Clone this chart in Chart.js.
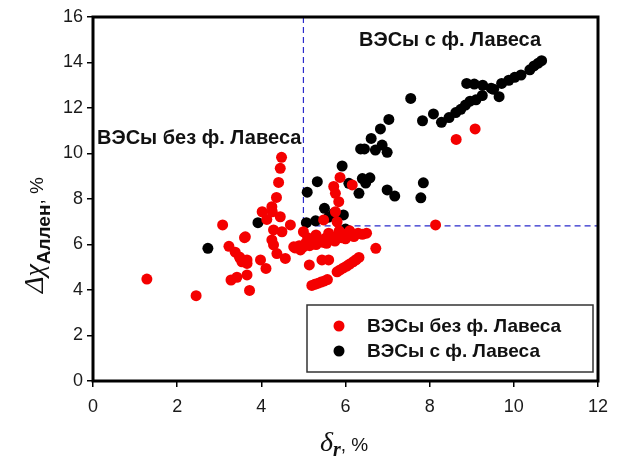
<!DOCTYPE html>
<html>
<head>
<meta charset="utf-8">
<script src="https://cdn.jsdelivr.net/npm/chart.js@4.4.1/dist/chart.umd.min.js"></script>
<style>
  html, body { margin: 0; background: #fff; }
  #wrap { width: 624px; height: 466px; position: relative; }
</style>
</head>
<body>
<div id="wrap"><canvas id="chart"></canvas></div>
<script>
// ВЭСы без фаз Лавеса (red)
const redX = [1.28, 2.45, 3.08, 3.60, 3.23, 3.38, 3.48, 3.54, 3.66, 3.28, 3.42, 3.66, 3.72,
    3.98, 4.11, 3.62, 3.50, 3.66, 4.02, 4.26, 4.13, 4.25, 4.36, 4.41, 4.45, 4.48, 4.45,
    4.29, 4.49, 4.69, 4.25, 4.29, 4.37, 4.57, 4.77, 4.93, 5.00,
    4.80, 4.90, 5.00, 5.05, 5.15, 5.20, 5.30, 5.35, 5.45, 5.50, 5.55, 5.60, 5.70, 5.75,
    5.80, 5.90, 5.95, 6.00, 6.05, 6.15, 6.20, 6.30, 6.40, 6.50, 5.10, 5.30, 5.60, 5.85, 6.10,
    5.20, 5.27, 5.35, 5.42, 5.50, 5.57,
    5.80, 5.87, 5.95, 6.03, 6.10, 6.18, 6.25, 6.32,
    5.14, 5.44, 5.60, 6.72,
    5.87, 5.72, 5.76, 5.84, 5.76, 5.80, 5.48, 6.16,
    8.63, 9.08, 8.14];
const redY = [4.48, 3.75, 6.86, 6.30, 5.92, 5.66, 5.45, 5.24, 5.32, 4.44, 4.56, 4.66, 3.98,
    5.32, 4.95, 6.34, 5.39, 5.17, 7.44, 7.44, 7.10, 7.66, 8.07, 8.73, 9.35, 9.83, 7.22,
    6.64, 6.56, 6.86, 6.20, 5.98, 5.60, 5.39, 5.90, 5.76, 6.56,
    5.85, 5.95, 5.90, 6.05, 5.95, 6.10, 6.00, 6.20, 6.10, 6.25, 6.05, 6.20, 6.30, 6.15,
    6.35, 6.30, 6.45, 6.25, 6.40, 6.45, 6.35, 6.50, 6.45, 6.50, 6.30, 6.42, 6.50, 6.60, 6.60,
    4.20, 4.25, 4.30, 4.35, 4.40, 4.46,
    4.80, 4.88, 4.97, 5.05, 5.14, 5.24, 5.33, 5.43,
    5.10, 5.32, 5.32, 5.83,
    8.95, 8.55, 8.25, 7.88, 7.44, 7.00, 7.08, 8.62,
    10.62, 11.08, 6.86];

// ВЭСы с фазами Лавеса (black)
const blackX = [2.73, 3.92,
    5.07, 5.29, 5.50, 5.72, 5.60, 5.95, 6.00,
    5.09, 5.33, 5.92, 6.08, 6.32, 6.40, 6.58, 6.48,
    6.99, 7.17, 7.85, 7.79,
    6.36, 6.45, 6.71, 6.87, 6.99, 6.61, 6.83, 7.03, 7.55,
    7.83, 8.09, 8.28, 8.46, 8.62, 8.74, 8.85, 8.96, 9.10, 9.25,
    8.88, 9.06, 9.26, 9.46, 9.52, 9.65, 9.71, 9.88, 10.02, 10.17, 10.38, 10.48, 10.58, 10.66];
const blackY = [5.83, 6.96,
    6.96, 7.04, 7.59, 7.37, 7.20, 7.30, 6.68,
    8.30, 8.76, 9.45, 8.69, 8.25, 8.90, 8.93, 8.70,
    8.40, 8.13, 8.71, 8.05,
    10.20, 10.20, 10.15, 10.37, 10.05, 10.66, 11.08, 11.50, 12.42,
    11.44, 11.74, 11.37, 11.58, 11.80, 11.94, 12.13, 12.30, 12.36, 12.55,
    13.08, 13.05, 13.00, 12.87, 12.82, 12.50, 13.08, 13.22, 13.35, 13.45, 13.68, 13.85, 13.97, 14.08];

const seriesNames = ['ВЭСы без ф. Лавеса', 'ВЭСы с ф. Лавеса'];
const seriesColors = ['#f40000', '#000000'];
const xTickValues = [0, 2, 4, 6, 8, 10, 12];
const yTickValues = [0, 2, 4, 6, 8, 10, 12, 14, 16];
const lavesX = 5;      // vertical dashed boundary
const lavesY = 6.82;   // horizontal dashed boundary

const SANS = "'Liberation Sans', Arial, sans-serif";
const SERIF = "'Liberation Serif', 'Times New Roman', serif";

const toPoints = (xs, ys) => xs.map((x, i) => ({ x, y: ys[i] }));

const overlay = {
    id: 'overlay',
    beforeDatasetsDraw(chart) {
        const { ctx, scales: { x, y }, chartArea: a } = chart;
        const vx = x.getPixelForValue(lavesX);
        const hy = y.getPixelForValue(lavesY);
        ctx.save();
        ctx.strokeStyle = '#2a2acc';
        ctx.lineWidth = 1.2;
        ctx.setLineDash([6, 4]);
        ctx.beginPath();
        ctx.moveTo(vx, a.top);
        ctx.lineTo(vx, hy);
        ctx.lineTo(a.right, hy);
        ctx.stroke();
        ctx.restore();
    },
    afterDraw(chart) {
        const { ctx, chartArea: a } = chart;
        ctx.save();

        // frame
        ctx.strokeStyle = '#000';
        ctx.lineWidth = 3;
        ctx.strokeRect(a.left, a.top, a.right - a.left, a.bottom - a.top);

        // region labels
        ctx.fillStyle = '#111';
        ctx.font = `bold 20px ${SANS}`;
        ctx.textBaseline = 'alphabetic';
        ctx.textAlign = 'left';
        ctx.fillText(seriesNames[0], 97, 144);
        ctx.fillText(seriesNames[1], 359, 46);

        // legend box
        ctx.fillStyle = '#fff';
        ctx.fillRect(307, 305, 286, 67);
        ctx.strokeStyle = '#333';
        ctx.lineWidth = 1.5;
        ctx.strokeRect(307, 305, 286, 67);
        const rows = [326, 351];
        rows.forEach((ry, i) => {
            ctx.beginPath();
            ctx.arc(339, ry, 5.5, 0, Math.PI * 2);
            ctx.fillStyle = seriesColors[i];
            ctx.fill();
            ctx.fillStyle = '#111';
            ctx.font = `bold 19px ${SANS}`;
            ctx.textBaseline = 'middle';
            ctx.fillText(seriesNames[i], 367, ry + 1);
        });

        // x axis title: δr, %
        ctx.textBaseline = 'alphabetic';
        let tx = 320;
        ctx.font = `italic 28px ${SERIF}`;
        ctx.fillText('δ', tx, 451);
        tx += ctx.measureText('δ').width;
        ctx.font = `italic bold 20px ${SERIF}`;
        ctx.fillText('r', tx, 456);
        tx += ctx.measureText('r').width;
        ctx.font = `19px ${SANS}`;
        ctx.fillText(', %', tx, 451);

        // y axis title: Δχ Аллен, %
        ctx.translate(43, 293);
        ctx.rotate(-Math.PI / 2);
        let ty = 0;
        ctx.font = `italic 28px ${SERIF}`;
        ctx.fillText('Δχ', ty, 0);
        ty += ctx.measureText('Δχ').width;
        ctx.font = `bold 19px ${SANS}`;
        ctx.fillText('Аллен', ty, 7);
        ty += ctx.measureText('Аллен').width;
        ctx.font = `19px ${SANS}`;
        ctx.fillText(', %', ty, 0);

        ctx.restore();
    }
};

new Chart(document.getElementById('chart'), {
    type: 'scatter',
    data: {
        datasets: [
            { label: seriesNames[0], data: toPoints(redX, redY), backgroundColor: seriesColors[0], borderWidth: 0, pointRadius: 5.5 },
            { label: seriesNames[1], data: toPoints(blackX, blackY), backgroundColor: seriesColors[1], borderWidth: 0, pointRadius: 5.5 }
        ]
    },
    options: {
        responsive: true,
        maintainAspectRatio: false,
        animation: false,
        layout: { padding: { left: 0, right: 26, top: 17, bottom: 0 } },
        plugins: { legend: { display: false }, tooltip: { enabled: false } },
        scales: {
            x: {
                type: 'linear', min: 0, max: 12,
                afterBuildTicks: s => { s.ticks = xTickValues.map(v => ({ value: v })); },
                afterFit: s => { s.height = 85; },
                border: { display: false },
                grid: { drawOnChartArea: false, drawTicks: true, tickLength: 6, color: '#000', lineWidth: 1.5 },
                ticks: { color: '#1a1a1a', font: { family: SANS, size: 18 }, padding: 9, maxRotation: 0 }
            },
            y: {
                type: 'linear', min: 0, max: 16,
                afterBuildTicks: s => { s.ticks = yTickValues.map(v => ({ value: v })); },
                afterFit: s => { s.width = 93; },
                border: { display: false },
                grid: { drawOnChartArea: false, drawTicks: true, tickLength: 6, color: '#000', lineWidth: 1.5 },
                ticks: { color: '#1a1a1a', font: { family: SANS, size: 18 }, padding: 4 }
            }
        }
    },
    plugins: [overlay]
});
</script>
</body>
</html>
